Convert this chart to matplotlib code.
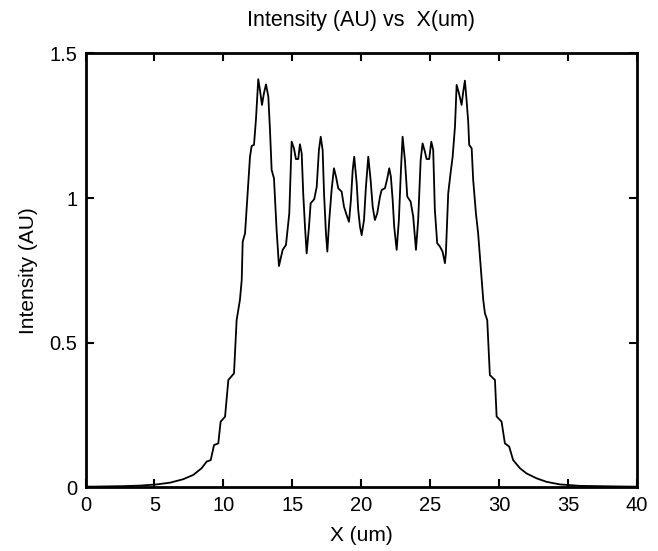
import matplotlib
matplotlib.use("Agg")
import matplotlib.pyplot as plt
from matplotlib.ticker import FuncFormatter

plt.rcParams['font.family'] = ['Liberation Sans', 'DejaVu Sans']

# profile, x in um
x_um = [0.0, 1.5, 2.74, 4.0, 5.16, 6.13, 7.09, 7.82, 8.42, 8.79, 9.08, 9.32,
        9.63, 9.80, 10.12, 10.36, 10.77, 10.96, 11.20, 11.33, 11.40, 11.57,
        11.93, 12.05, 12.22, 12.36, 12.53, 12.65, 12.80, 12.94, 13.09, 13.26,
        13.38, 13.50, 13.67, 13.86, 14.03, 14.30, 14.54, 14.78, 14.95, 15.12,
        15.26, 15.43, 15.55, 15.68, 15.79, 15.92, 16.04, 16.21, 16.33, 16.59,
        16.77, 16.93, 17.06, 17.20, 17.30, 17.44, 17.54, 17.68, 17.85, 18.02,
        18.17, 18.33, 18.58, 18.75, 18.94, 19.11, 19.25, 19.38, 19.49, 19.67,
        19.78, 19.91, 20.03, 20.20, 20.34, 20.51, 20.68, 20.83, 20.99, 21.16,
        21.36, 21.48, 21.72, 21.89, 22.03, 22.15, 22.28, 22.39, 22.57, 22.73,
        22.88, 23.00, 23.17, 23.34, 23.58, 23.77, 23.97, 24.13, 24.31, 24.45,
        24.62, 24.74, 24.93, 25.08, 25.22, 25.34, 25.51, 25.71, 25.90, 26.07,
        26.14, 26.31, 26.48, 26.63, 26.80, 26.92, 27.09, 27.28, 27.40, 27.52,
        27.64, 27.76, 27.83, 28.01, 28.12, 28.32, 28.48, 28.85, 28.97, 29.14,
        29.33, 29.70, 29.82, 30.18, 30.42, 30.73, 31.02, 31.51, 31.99, 32.72,
        33.44, 34.40, 35.85, 37.0, 38.5, 40.0]

intensity = [0.002, 0.003, 0.004, 0.006, 0.010, 0.016, 0.028, 0.043, 0.066,
             0.089, 0.094, 0.146, 0.152, 0.227, 0.244, 0.371, 0.394, 0.578,
             0.648, 0.717, 0.849, 0.878, 1.143, 1.180, 1.184, 1.270, 1.411,
             1.374, 1.322, 1.362, 1.393, 1.351, 1.235, 1.097, 1.068, 0.890,
             0.765, 0.821, 0.838, 0.947, 1.195, 1.172, 1.135, 1.135, 1.186,
             1.155, 1.017, 0.901, 0.809, 0.901, 0.982, 0.996, 1.039, 1.166,
             1.212, 1.166, 1.017, 0.878, 0.815, 0.924, 1.028, 1.103, 1.074,
             1.034, 1.022, 0.970, 0.941, 0.918, 0.993, 1.097, 1.143, 1.051,
             0.959, 0.901, 0.872, 0.924, 1.039, 1.143, 1.062, 0.970, 0.924,
             0.947, 1.005, 1.028, 1.034, 1.068, 1.103, 1.074, 0.993, 0.901,
             0.821, 0.924, 1.097, 1.212, 1.131, 1.005, 0.988, 0.936, 0.821,
             0.924, 1.131, 1.189, 1.160, 1.135, 1.135, 1.195, 1.166, 0.959,
             0.844, 0.832, 0.815, 0.775, 0.809, 1.017, 1.086, 1.143, 1.247,
             1.391, 1.362, 1.322, 1.368, 1.406, 1.339, 1.264, 1.184, 1.172,
             1.063, 0.947, 0.878, 0.648, 0.602, 0.578, 0.388, 0.371, 0.245,
             0.227, 0.152, 0.141, 0.094, 0.066, 0.048, 0.031, 0.019, 0.010,
             0.005, 0.004, 0.003, 0.002]

x_ticks = [0, 5, 10, 15, 20, 25, 30, 35, 40]
y_ticks = [0, 0.5, 1, 1.5]

fig = plt.figure(figsize=(6.58, 5.51), dpi=100)
ax = fig.add_axes([0.13, 0.1156, 0.838, 0.7874])

ax.plot(x_um, intensity, color='black', linewidth=1.3)

ax.set_xlim(0, 40)
ax.set_ylim(0, 1.5)
ax.set_xticks(x_ticks)
ax.set_yticks(y_ticks)
ax.yaxis.set_major_formatter(FuncFormatter(lambda v, p: ('%g' % v)))

ax.tick_params(direction='in', length=6, width=1.5, top=True, right=True,
               labelsize=14.5, pad=6)
for s in ax.spines.values():
    s.set_linewidth(2)

ax.set_title('Intensity (AU) vs  X(um)', fontsize=15.5, pad=20)
ax.set_xlabel('X (um)', fontsize=15, labelpad=8)
ax.set_ylabel('Intensity (AU)', fontsize=15, labelpad=8)

fig.savefig('out.png', dpi=100)
